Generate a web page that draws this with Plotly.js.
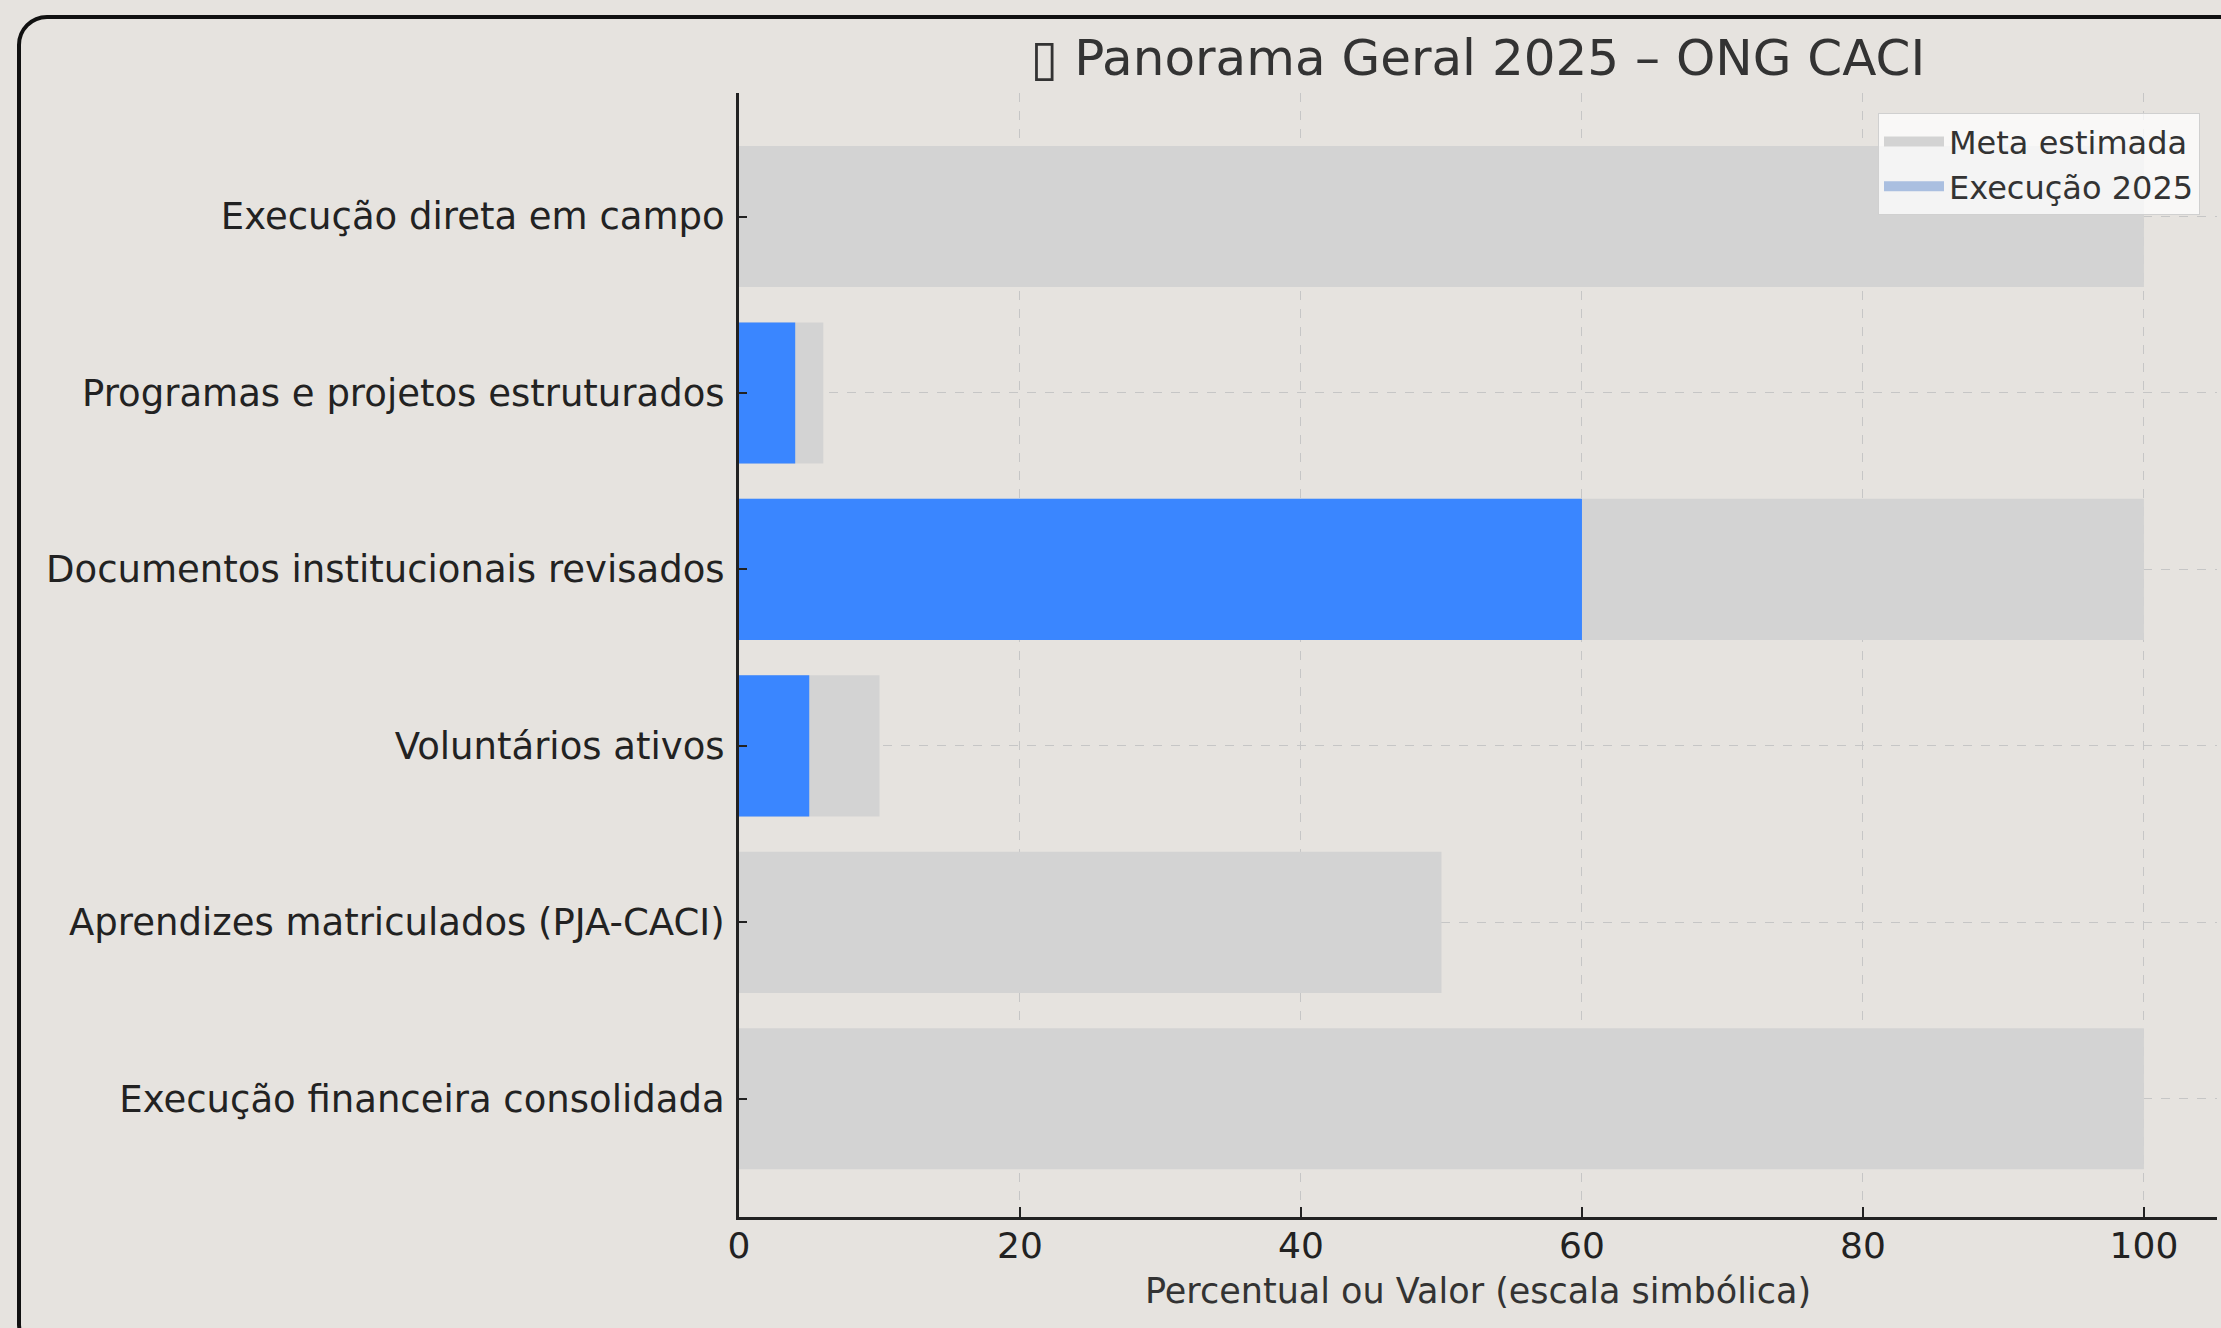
<!DOCTYPE html>
<html>
<head>
<meta charset="utf-8">
<script src="https://cdn.plot.ly/plotly-3.0.1.min.js"></script>
<style>
  html, body { margin:0; padding:0; width:2221px; height:1328px; overflow:hidden; background:#e6e3df; }
  #frame { position:absolute; left:17px; top:15px; width:2260px; height:1340px; border:4px solid #111; border-radius:30px; box-sizing:border-box; }
  #chart { position:absolute; left:0; top:0; width:2221px; height:1328px; }
</style>
</head>
<body>
<div id="frame"></div>
<div id="chart"></div>
<script>
// Categories listed top to bottom
const categorias = [
  "Execução direta em campo",
  "Programas e projetos estruturados",
  "Documentos institucionais revisados",
  "Voluntários ativos",
  "Aprendizes matriculados (PJA-CACI)",
  "Execução financeira consolidada"
];
const metaEstimada = [100, 6, 100, 10, 50, 100];
const execucao2025 = [0, 4, 60, 5, 0, 0];
const xTicks = [0, 20, 40, 60, 80, 100];

const font = "DejaVu Sans, sans-serif";

const traces = [
  { type: "bar", orientation: "h", y: categorias, x: metaEstimada, name: "Meta estimada",
    marker: { color: "#d3d3d3" }, width: 0.8, showlegend: false, hoverinfo: "x+y" },
  { type: "bar", orientation: "h", y: categorias, x: execucao2025, name: "Execução 2025",
    marker: { color: "#3a86ff" }, width: 0.8, showlegend: false, hoverinfo: "x+y" },
  // legend proxies (wide swatches, lighter blue as in the reference legend)
  { type: "scatter", mode: "lines", y: [null], x: [null], name: "Meta estimada",
    line: { color: "#d3d3d3", width: 21 }, showlegend: true, hoverinfo: "skip" },
  { type: "scatter", mode: "lines", y: [null], x: [null], name: "Execução 2025",
    line: { color: "#aabfe0", width: 21 }, showlegend: true, hoverinfo: "skip" }
];

const layout = {
  width: 2221, height: 1328,
  margin: { l: 739, r: 4, t: 93, b: 111, pad: 0 },
  paper_bgcolor: "rgba(0,0,0,0)",
  plot_bgcolor: "rgba(0,0,0,0)",
  barmode: "overlay",
  font: { family: font, color: "#222", size: 36 },
  title: {
    text: "▯ Panorama Geral 2025 – ONG CACI",
    font: { family: font, size: 50, color: "#333" },
    x: 0.5, xref: "paper", xanchor: "center",
    y: 1 - 57/1328, yref: "container", yanchor: "middle"
  },
  xaxis: {
    range: [0, 105.2],
    tickvals: xTicks,
    ticktext: xTicks.map(String),
    ticks: "inside", ticklen: 10, tickwidth: 2, tickcolor: "#222",
    showline: true, linecolor: "#222", linewidth: 3,
    showgrid: true, gridcolor: "#c6c6c6", griddash: "dash", gridwidth: 1,
    zeroline: false,
    tickfont: { family: font, size: 36, color: "#222" },
    ticklabelstandoff: -5,
    title: { text: "Percentual ou Valor (escala simbólica)", font: { family: font, size: 35, color: "#333" }, standoff: 14 }
  },
  yaxis: {
    type: "category",
    categoryorder: "array", categoryarray: categorias,
    range: [5.67, -0.70],
    ticks: "inside", ticklen: 8, tickwidth: 2, tickcolor: "#222",
    showline: true, linecolor: "#222", linewidth: 3,
    showgrid: true, gridcolor: "#c6c6c6", griddash: "dash", gridwidth: 1,
    zeroline: false,
    tickfont: { family: font, size: 37, color: "#222" },
    ticklabelstandoff: 4
  },
  legend: {
    x: 0.9885, xanchor: "right", y: 0.982, yanchor: "top",
    bgcolor: "rgba(255,255,255,0.75)", bordercolor: "#d0d0d0", borderwidth: 1,
    font: { family: font, size: 32, color: "#333" },
    traceorder: "normal", tracegroupgap: 0,
    itemwidth: 60
  },
  showlegend: true
};

Plotly.newPlot("chart", traces, layout, { displayModeBar: false, staticPlot: true });
</script>
</body>
</html>
